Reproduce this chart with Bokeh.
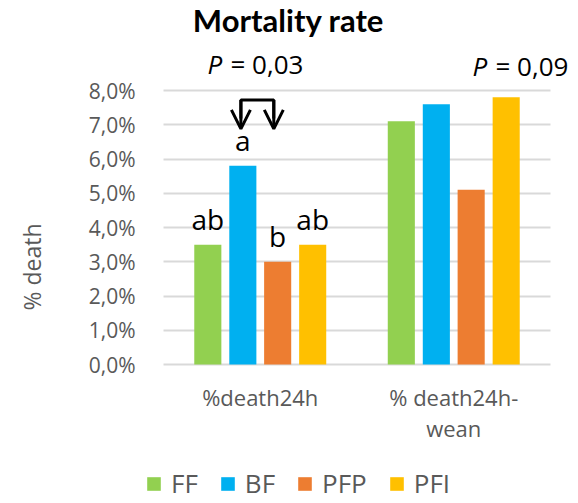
import numpy as np
from bokeh.plotting import figure
from bokeh.models import (Range1d, FixedTicker, Label, Legend, LegendItem,
                          Arrow, OpenHead, ColumnDataSource, Grid)
from bokeh.core.properties import value
from bokeh.embed import file_html
from bokeh.resources import INLINE

# ---- data ----
categories = ["%death24h", "% death24h-\nwean"]
series = ["FF", "BF", "PFP", "PFI"]
colors = ["#92D050", "#00B0F0", "#ED7D31", "#FFC000"]
values = {
    "FF":  [3.5, 7.1],
    "BF":  [5.8, 7.6],
    "PFP": [3.0, 5.1],
    "PFI": [3.5, 7.8],
}
letters_24h = ["ab", "a", "b", "ab"]
y_ticks = [0, 1, 2, 3, 4, 5, 6, 7, 8]
y_tick_labels = ["0,0%", "1,0%", "2,0%", "3,0%", "4,0%", "5,0%", "6,0%", "7,0%", "8,0%"]
p_values = ["0,03", "0,09"]

GRAY = "#595959"
GRID = "#d9d9d9"
FONT = "Open Sans"

W, H = 578, 503
FRAME_LEFT = 145      # frame left edge (px)
ZERO_X = 163          # pixel column where the category span starts
ZERO_Y = 364          # pixel row of the 0 % line
PX_X = 193.5          # px per category
PX_Y = 34.25          # px per 1 %

p = figure(width=W, height=H, output_backend="svg", toolbar_location=None,
           x_range=Range1d(-(ZERO_X - FRAME_LEFT) / PX_X, (W - ZERO_X) / PX_X),
           y_range=Range1d(-(H - ZERO_Y) / PX_Y, ZERO_Y / PX_Y),
           x_axis_location=None,
           min_border_left=FRAME_LEFT, min_border_right=0, min_border_top=0,
           min_border_bottom=0)
p.outline_line_color = None
p.background_fill_color = "white"
p.border_fill_color = "white"
p.grid.visible = False

centers = np.arange(len(categories)) + 0.5
offsets = [-0.271, -0.09, 0.09, 0.271]
bar_w = 0.14

# horizontal grid limited to the category span
grid = Grid(dimension=1, ticker=FixedTicker(ticks=y_ticks), grid_line_color=GRID,
            grid_line_width=2)
try:
    grid.cross_bounds = (0, len(categories))
except Exception:
    pass
p.add_layout(grid)

renderers = []
for s, c, off in zip(series, colors, offsets):
    src = ColumnDataSource(dict(x=centers + off, top=values[s]))
    r = p.vbar(x="x", top="top", width=bar_w, source=src, fill_color=c, line_color=None)
    renderers.append(r)

# category labels under the axis
p.text(x=centers, y=[0] * len(centers), text=categories, text_align="center",
       text_baseline="top", y_offset=17, text_font=value(FONT), text_font_size="22px",
       text_color=GRAY, text_line_height=1.05)

# significance letters over first group
lx = [centers[0] + off for off in offsets]
ly = [values[s][0] for s in series]
p.text(x=lx, y=ly, text=letters_24h, text_align="center", text_baseline="alphabetic",
       y_offset=-26, text_font=value(FONT), text_font_size="28px", text_color="black")

# bracket with arrows between BF and PFP
xa = centers[0] + offsets[1] - 0.01
xb = centers[0] + offsets[2] - 0.02
ytop = 7.72
ytip = 6.88
p.line(x=[xa, xa, xb, xb], y=[ytip + 0.3, ytop, ytop, ytip + 0.3],
       line_color="black", line_width=3)
for xx in (xa, xb):
    p.add_layout(Arrow(x_start=xx, y_start=ytop, x_end=xx, y_end=ytip, line_width=3,
                       line_color="black",
                       end=OpenHead(size=19, line_width=3, line_color="black")))

# y axis
p.yaxis.ticker = FixedTicker(ticks=y_ticks)
p.yaxis.major_label_overrides = {t: lab for t, lab in zip(y_ticks, y_tick_labels)}
p.yaxis.major_tick_line_color = None
p.yaxis.minor_tick_line_color = None
p.yaxis.axis_line_color = None
p.yaxis.major_label_text_font = FONT
p.yaxis.major_label_text_font_size = "21px"
p.yaxis.major_label_text_color = GRAY
p.yaxis.major_label_standoff = 4
p.yaxis.axis_label = "% death" + "\u00a0" * 5
p.yaxis.axis_label_text_font = FONT
p.yaxis.axis_label_text_font_size = "23px"
p.yaxis.axis_label_text_font_style = "normal"
p.yaxis.axis_label_text_color = GRAY
p.yaxis.axis_label_standoff = 38


def sx(page_x):
    return page_x - FRAME_LEFT


def sy(page_y):
    return H - page_y


# title
p.add_layout(Label(x=sx(288), y=sy(19), x_units="screen", y_units="screen",
                   text="Mortality rate", text_align="center", text_baseline="alphabetic",
                   text_font="Lato", text_font_style="bold", text_font_size="31px",
                   text_color="black"))

# P values
for (px, py), pv in zip([(207, 63), (472, 65)], p_values):
    p.add_layout(Label(x=sx(px), y=sy(py), x_units="screen", y_units="screen", text="P",
                       text_align="left", text_baseline="alphabetic",
                       text_font=FONT, text_font_style="italic", text_font_size="26px",
                       text_color="black"))
    p.add_layout(Label(x=sx(px) + 23, y=sy(py), x_units="screen", y_units="screen",
                       text="= " + pv, text_align="left", text_baseline="alphabetic",
                       text_font=FONT, text_font_style="normal", text_font_size="26px",
                       text_color="black"))

# legend
legend = Legend(items=[LegendItem(label=s, renderers=[r]) for s, r in zip(series, renderers)],
                orientation="horizontal", location=(0, 2),
                glyph_width=17, glyph_height=17, label_standoff=9, spacing=21,
                padding=0, margin=0, border_line_color=None, background_fill_alpha=0,
                label_text_font=FONT, label_text_font_size="26px", label_text_color=GRAY)
p.add_layout(legend)

open("out.html", "w").write(file_html(p, INLINE))
